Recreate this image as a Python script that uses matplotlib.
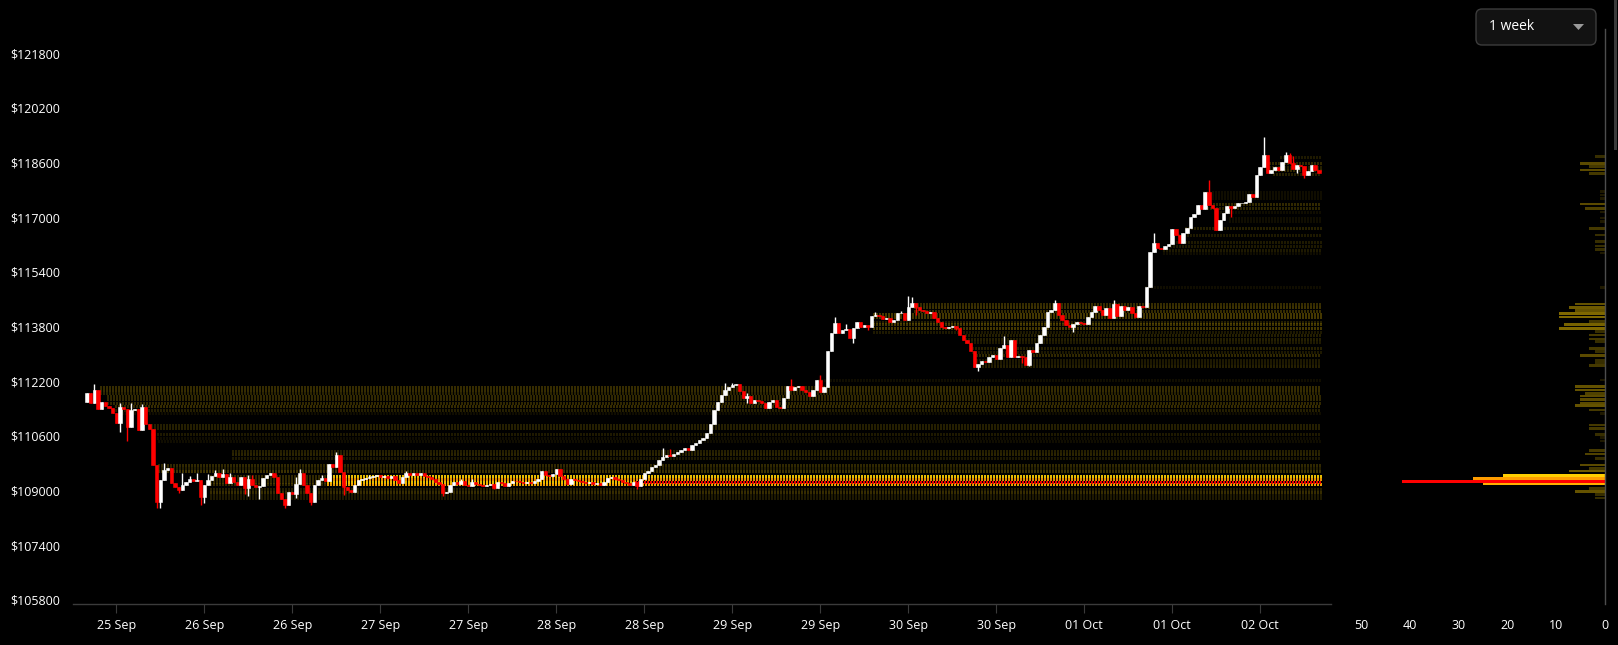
import matplotlib
matplotlib.use("Agg")
import matplotlib.pyplot as plt
import numpy as np
from matplotlib.colors import LinearSegmentedColormap, Normalize
from matplotlib.patches import FancyBboxPatch, Polygon, Rectangle
from matplotlib.transforms import IdentityTransform

plt.rcParams['font.family'] = ['Open Sans', 'DejaVu Sans']
plt.rcParams['lines.scale_dashes'] = False

W, H = 1618, 645

# 30 min candles, first one at 25 Sep 08:00 (hours counted from 25 Sep 00:00)
first_hour = 8.0
step = 0.5
first_open = 111600

closes_a = [111870, 111550, 111940, 111390, 111600, 111480, 111410, 111260, 110990, 111450,
            111380, 110850, 111370, 111400, 110770, 111440, 110960, 110790, 109760, 108680,
            109310, 109600, 109650, 109210, 109100, 109010, 109160, 109260, 109330, 109280,
            109300, 108820, 109160, 109310, 109430, 109520, 109410, 109480, 109210, 109400,
            109240, 109160, 109390, 109090, 109340, 109160, 109110, 109140, 109360, 109450,
            109520, 109400, 108920, 108740, 108580, 108970, 108900, 109200, 109520, 109160,
            108920, 108680, 109160, 109310, 109360, 109290, 109770, 109700, 110040, 109550,
            109110, 109010, 108970, 109160, 109310, 109350, 109370, 109410, 109420, 109470,
            109410]
closes_b = [109440, 109380, 109420, 109300, 109210]
closes_c = [109410, 109500, 109470, 109500, 109450, 109500, 109420, 109390, 109330, 109250,
            109180, 108920, 108960, 109160, 109260, 109200, 109270, 109170, 109120, 109260,
            109180, 109160, 109120, 109150, 109200, 109080, 109260, 109230, 109140, 109230,
            109290, 109270, 109240, 109230, 109250, 109220, 109270, 109330, 109560, 109470,
            109420, 109480, 109630, 109430, 109330, 109190, 109330, 109300, 109270, 109250,
            109230, 109260, 109200, 109230, 109160, 109260, 109360, 109410, 109330, 109300,
            109260, 109210, 109160, 109240, 109120, 109330, 109500, 109580, 109700, 109760,
            109900, 109990, 110040, 110010, 110060, 110130, 110190, 110250, 110200, 110320,
            110400, 110480]
closes_d = [110550, 110680, 110950, 111360, 111600, 111800, 111950, 112020, 112090, 112120,
            111900, 111700, 111780, 111570, 111640, 111610, 111560, 111430, 111600, 111650,
            111450, 111430, 111700, 112060, 111930, 112030, 112050, 111930, 111880, 111760,
            111940, 112230, 111880, 112040, 113085, 113600, 113900, 113620, 113700, 113720,
            113480, 113750, 113920, 113800, 113850, 113800, 114110, 114150, 114100, 114010,
            114050, 113920, 114000, 114190, 114210, 113990, 114380, 114480, 114380, 114300,
            114270, 114190, 114230, 114040, 113940, 113800, 113750, 113790, 113810, 113770,
            113560, 113410, 113310, 113100, 112630, 112700, 112800, 112750, 112920, 112970,
            112840, 113170]
closes_e = [113260, 112920, 113420, 112920, 112950, 112900, 112680, 113110, 113060, 113310,
            113550, 113800, 114240, 114300, 114500, 114140, 113990, 113850, 113780, 113890,
            113920, 113900, 113870, 114090, 114240, 114400, 114290, 114140, 114330, 114040,
            114460, 114110, 114400, 114300, 114360, 114190, 114090, 114400, 114360, 114950,
            115990, 116260, 116090]
closes_f = [116060, 116150, 116230, 116650, 116480, 116260, 116530, 116680, 117020, 117110,
            117360, 117230, 117750, 117360, 117260, 116630, 116920, 117120, 117330, 117280,
            117340, 117410, 117430, 117460, 117680, 117580, 118240, 118480, 118820, 118300,
            118380, 118480, 118380, 118630, 118820, 118600, 118400, 118530, 118500, 118240,
            118340, 118530, 118380, 118300]

# visible wicks (candle index -> price)
wick_hi = {2: 112120, 9: 111550, 12: 111570, 15: 111530, 21: 109800, 26: 109500, 28: 109430,
           30: 109500, 33: 109480, 35: 109600, 37: 109620, 39: 109500, 44: 109460, 45: 109450,
           57: 109410, 58: 109620, 64: 109460, 68: 110130, 77: 109460, 87: 109560, 102: 109330,
           105: 109340, 157: 110240, 159: 110210, 174: 112160, 176: 112140, 180: 111850,
           192: 112260, 200: 112380, 204: 114070, 207: 113880, 215: 114240, 222: 114270,
           224: 114700, 225: 114680, 250: 113520, 264: 114580, 280: 114580, 291: 116530,
           306: 118090, 321: 119360, 327: 118920, 328: 118870, 329: 118790}
wick_lo = {9: 110700, 11: 110460, 19: 108480, 20: 108480, 25: 108920, 31: 108580, 32: 108650,
           43: 108900, 44: 108840, 47: 108740, 54: 108480, 57: 108770, 61: 108580, 70: 108870,
           97: 108850, 111: 109040, 150: 109040, 180: 111550, 209: 113310, 213: 113700,
           226: 114140, 237: 113700, 243: 112510, 255: 112720, 257: 112650, 269: 113650,
           312: 117020, 330: 118290, 332: 118140}

# liquidity levels: price, candle where the level appears, size
lvl_price = [118770, 118580, 118480, 118380, 118270, 117750, 117650, 117550, 117390, 117260,
             117150, 116980, 116880, 116680, 116480, 116290, 116160, 116050, 115950, 114950,
             114460, 114360, 114270, 114180, 114080, 113940, 113870, 113750, 113650, 113550,
             113440, 113360, 113160, 113060, 112960, 112820, 112740, 112660, 112240,
             112040, 111940, 111850, 111770, 111670, 111560, 111480, 111360, 111260, 110920,
             110820, 110650, 110550, 110450, 110170, 110070, 109940, 109750, 109650, 109570,
             109440, 109350, 109260, 109190, 109060, 108970, 108880, 108780]
lvl_start = [326, 322, 322, 322, 324, 305, 305, 305, 306, 306,
             308, 312, 312, 300, 298, 296, 296, 294, 294, 289,
             226, 226, 226, 215, 215, 215, 215, 215, 215, 240,
             240, 240, 242, 242, 243, 243, 243, 243, 200,
             4, 4, 4, 6, 6, 6, 8, 8, 10, 18,
             18, 18, 18, 20, 40, 40, 40, 20, 20, 20,
             66, 66, 150, 66, 34, 34, 34, 34]
lvl_value = [2.0, 5.1, 3.2, 5.1, 3.2, 1.1, 1.1, 1.1, 5.1, 4.1,
             1.1, 1.1, 1.1, 3.2, 2.0, 2.0, 2.0, 2.0, 1.1, 1.1,
             6.2, 7.4, 6.2, 9.5, 9.5, 3.2, 8.5, 9.5, 2.0, 3.2,
             3.2, 2.0, 3.2, 2.0, 5.1, 2.0, 2.0, 3.2, 1.1,
             6.2, 6.2, 4.1, 5.1, 5.1, 5.1, 6.2, 3.2, 1.1, 3.2,
             3.2, 2.0, 1.1, 1.1, 3.2, 4.1, 2.0, 5.1, 3.2, 7.4,
             21.0, 27.0, 41.7, 25.0, 3.2, 6.2, 2.0, 2.0]

# earlier, weaker state of the main cluster
old_price = [109440, 109350, 109260, 109190, 109260]
old_start = [34, 34, 34, 34, 66]
old_end = [66, 66, 66, 66, 150]
old_value = [5.1, 5.1, 5.1, 5.1, 21.0]

xtick_hours = [12, 24, 36, 48, 60, 72, 84, 96, 108, 120, 132, 144, 156, 168]
xtick_labels = ['25 Sep', '26 Sep', '26 Sep', '27 Sep', '27 Sep', '28 Sep', '28 Sep',
                '29 Sep', '29 Sep', '30 Sep', '30 Sep', '01 Oct', '01 Oct', '02 Oct']
ytick_values = [105800, 107400, 109000, 110600, 112200, 113800, 115400, 117000,
                118600, 120200, 121800]
hist_ticks = [50, 40, 30, 20, 10, 0]

# ---------------------------------------------------------------
closes = np.array(closes_a + closes_b + closes_c + closes_d + closes_e + closes_f, float)
opens = np.r_[first_open, closes[:-1]]
n = len(closes)
xs = first_hour + step * np.arange(n)
highs = np.maximum(opens, closes)
lows = np.minimum(opens, closes)
for i, v in wick_hi.items():
    highs[i] = v
for i, v in wick_lo.items():
    lows[i] = v
up = closes >= opens
cols = np.where(up, '#ffffff', '#ff0000')

cmap = LinearSegmentedColormap.from_list('liq', [(0, '#000000'), (0.026, '#221c00'),
                                                 (0.05, '#3a3000'), (0.12, '#5a4a00'),
                                                 (0.23, '#806900'), (0.5, '#ffd000'),
                                                 (0.64, '#ffa000'), (1.0, '#ff0000')])
norm = Normalize(0, 41.7)


def row_color(v):
    # rows in the chart are a shade darker than the side bars
    return cmap(norm(v), alpha=0.55 if v < 15 else 0.9)


fig = plt.figure(figsize=(W / 100, H / 100), dpi=100, facecolor='black')
ax = fig.add_axes([73 / W, 41 / H, 1258 / W, 584 / H])
ax.set_facecolor('black')
ax.set_xlim(6.09, 177.65)
ax.set_ylim(105680, 122774)

x_end = xs[-1] + 0.25
dots = (0, (1.0, 1.4))
for k in range(len(old_price)):
    ax.hlines(old_price[k], xs[old_start[k]] - 0.25, xs[old_end[k]] - 0.25,
              color=row_color(old_value[k]), lw=1.8, linestyles=dots,
              antialiased=False, zorder=1)
for k in np.argsort(lvl_value, kind='stable'):
    ax.hlines(lvl_price[k], xs[lvl_start[k]] - 0.25, x_end,
              color=row_color(lvl_value[k]), lw=1.8, linestyles=dots,
              antialiased=False, zorder=1)

ax.vlines(xs, lows, highs, colors=cols, lw=1.0, zorder=2)
ax.bar(xs, np.abs(closes - opens), bottom=np.minimum(opens, closes), width=0.48,
       color=cols, edgecolor=cols, linewidth=0.4, zorder=3)

for s in ['top', 'right', 'left']:
    ax.spines[s].set_visible(False)
ax.spines['bottom'].set_color('#3b3b3b')
ax.spines['bottom'].set_linewidth(1)
ax.set_xticks(xtick_hours)
ax.set_xticklabels(xtick_labels)
ax.tick_params(axis='x', length=6.5, width=0.8, color='#3b3b3b', pad=4,
               labelsize=9, labelcolor='white')
ax.set_yticks(ytick_values)
ax.set_yticklabels(['$%d' % v for v in ytick_values])
ax.tick_params(axis='y', length=0, pad=45.4, labelsize=9, labelcolor='white')
for lab in ax.get_yticklabels():
    lab.set_horizontalalignment('left')

# side histogram of the levels
ax2 = fig.add_axes([1340 / W, 41 / H, 265 / W, 575 / H])
ax2.set_facecolor('black')
ax2.set_xlim(54.4, 0)
ax2.set_ylim(105680, 122510)
for k in np.argsort(lvl_value, kind='stable'):
    ax2.barh(lvl_price[k], lvl_value[k], height=80, color=cmap(norm(lvl_value[k])),
             linewidth=0)
for s in ['top', 'left', 'bottom']:
    ax2.spines[s].set_visible(False)
ax2.spines['right'].set_color('#4d4d4d')
ax2.spines['right'].set_linewidth(1)
ax2.set_xticks(hist_ticks)
ax2.set_xticklabels([str(t) for t in hist_ticks])
ax2.tick_params(axis='x', length=0, pad=10.5, labelsize=9, labelcolor='white')
ax2.set_yticks([])

# period selector
fig.add_artist(FancyBboxPatch((1476, H - 45), 120, 36,
                              boxstyle='round,pad=0,rounding_size=6',
                              facecolor='#121212', edgecolor='#3c3c3c', lw=1,
                              transform=IdentityTransform()))
fig.text(1489 / W, 1 - 27 / H, '1 week', color='white', fontsize=10, va='center')
fig.add_artist(Polygon([(1573, H - 24), (1584, H - 24), (1578.5, H - 30)], closed=True,
                       facecolor='#9a9a9a', edgecolor='none',
                       transform=IdentityTransform()))
fig.add_artist(Rectangle((1614, H - 150), 3, 150, facecolor='#3a3a3a', edgecolor='none',
                         transform=IdentityTransform()))

fig.savefig('out.png', dpi=100, facecolor='black')
